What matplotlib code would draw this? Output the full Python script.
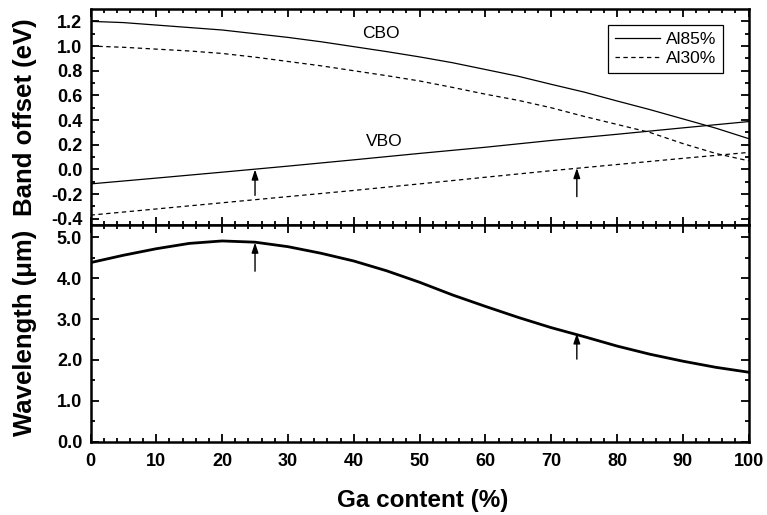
import matplotlib
matplotlib.use("Agg")
import matplotlib.pyplot as plt

plt.rcParams['font.family'] = ['Liberation Sans', 'DejaVu Sans']

# Ga content (%)
ga_fine = [0, 5, 10, 15, 20, 25, 30, 35, 40, 45, 50,
           55, 60, 65, 70, 75, 80, 85, 90, 95, 100]
ga_coarse = [0, 10, 20, 30, 40, 50, 60, 70, 80, 90, 100]

# band offsets (eV)
cbo_al85 = [1.20, 1.19, 1.17, 1.15, 1.13, 1.10, 1.07, 1.035, 0.995, 0.955, 0.912,
            0.865, 0.81, 0.755, 0.69, 0.627, 0.555, 0.485, 0.41, 0.335, 0.25]
cbo_al30 = [1.00, 0.99, 0.975, 0.96, 0.94, 0.91, 0.875, 0.84, 0.80, 0.76, 0.717,
            0.665, 0.61, 0.56, 0.50, 0.43, 0.365, 0.30, 0.21, 0.13, 0.07]
vbo_al85 = [-0.117, -0.07, -0.022, 0.027, 0.078, 0.13, 0.18, 0.235, 0.285, 0.337, 0.388]
vbo_al30 = [-0.37, -0.32, -0.27, -0.22, -0.17, -0.117, -0.063, -0.01, 0.04, 0.09, 0.138]

# wavelength (um)
wavelength = [4.38, 4.56, 4.72, 4.85, 4.91, 4.88, 4.77, 4.61, 4.42, 4.18, 3.90,
              3.59, 3.31, 3.04, 2.79, 2.57, 2.34, 2.14, 1.97, 1.82, 1.70]

# arrows: (x, tail, tip)
arrows_top = [(25, -0.21, 0.0), (73.9, -0.22, 0.012)]
arrows_bot = [(25, 4.17, 4.87), (73.9, 2.02, 2.65)]

fig = plt.figure(figsize=(7.67, 5.15), dpi=100)
L, W = 0.118, 0.858
ax1 = fig.add_axes([L, 0.5631, W, 0.4194])
ax2 = fig.add_axes([L, 0.1423, W, 0.4208], sharex=ax1)

dash = (0, (3.5, 2.8))
ax1.plot(ga_fine, cbo_al85, color='black', lw=0.9, label='Al85%')
ax1.plot(ga_fine, cbo_al30, color='black', lw=0.9, linestyle=dash, label='Al30%')
ax1.plot(ga_coarse, vbo_al85, color='black', lw=0.9)
ax1.plot(ga_coarse, vbo_al30, color='black', lw=0.9, linestyle=dash)

ax1.text(44.1, 1.105, 'CBO', fontsize=12.5, ha='center', va='center')
ax1.text(44.7, 0.226, 'VBO', fontsize=12.5, ha='center', va='center')

ax2.plot(ga_fine, wavelength, color='black', lw=2.0)

aprops = dict(arrowstyle='-|>,head_length=0.6,head_width=0.2', color='black',
              lw=1.0, shrinkA=0, shrinkB=0)
for x, y0, y1 in arrows_top:
    ax1.annotate('', xy=(x, y1), xytext=(x, y0), arrowprops=aprops)
for x, y0, y1 in arrows_bot:
    ax2.annotate('', xy=(x, y1), xytext=(x, y0), arrowprops=aprops)

leg = ax1.legend(loc='upper right', bbox_to_anchor=(0.961, 0.926), borderaxespad=0,
                 fontsize=12.5, fancybox=False, framealpha=1, edgecolor='black',
                 handlelength=2.6, handletextpad=0.3, labelspacing=0.2, borderpad=0.4)
leg.get_frame().set_linewidth(0.9)

ax1.set_xlim(0, 100)
ax1.set_ylim(-0.45, 1.3)
ax2.set_ylim(0, 5.3)

ax1.set_yticks([-0.4, -0.2, 0.0, 0.2, 0.4, 0.6, 0.8, 1.0, 1.2])
ax1.set_yticks([-0.3, -0.1, 0.1, 0.3, 0.5, 0.7, 0.9, 1.1], minor=True)
ax2.set_yticks([0, 1, 2, 3, 4, 5])
ax2.set_yticks([0.5, 1.5, 2.5, 3.5, 4.5], minor=True)
ax2.set_xticks(range(0, 101, 10))
ax2.set_xticks(range(0, 101, 2), minor=True)
ax1.yaxis.set_major_formatter(matplotlib.ticker.FormatStrFormatter('%.1f'))
ax2.yaxis.set_major_formatter(matplotlib.ticker.FormatStrFormatter('%.1f'))

for ax in (ax1, ax2):
    for s in ax.spines.values():
        s.set_linewidth(1.8)
    ax.tick_params(which='both', direction='in', top=True, right=True,
                   width=1.3, labelsize=13, pad=6)
    ax.tick_params(which='major', length=5.5)
    ax.tick_params(which='minor', length=3)
    for lab in ax.get_yticklabels() + ax.get_xticklabels():
        lab.set_fontweight('bold')
ax2.tick_params(axis='x', pad=8)
ax1.tick_params(labelbottom=False)

ax1.set_ylabel('Band offset (eV)', fontsize=18.5, fontweight='bold')
ax2.set_ylabel('Wavelength (μm)', fontsize=18.5, fontweight='bold')
ax1.yaxis.set_label_coords(-0.082, 0.5)
ax2.yaxis.set_label_coords(-0.082, 0.5)
ax2.set_xlabel('Ga content (%)', fontsize=17.5, fontweight='bold')
ax2.xaxis.set_label_coords(0.505, -0.22)
ax2.xaxis.label.set_va('top')

fig.savefig('out.png', dpi=100)
